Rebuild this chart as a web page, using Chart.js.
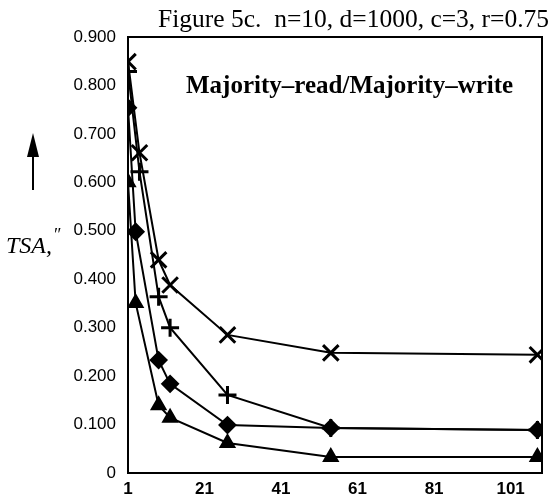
<!DOCTYPE html>
<html>
<head>
<meta charset="utf-8">
<script src="https://cdn.jsdelivr.net/npm/chart.js@4/dist/chart.umd.min.js"></script>
<style>
html,body{margin:0;padding:0;background:#fff;}
#wrap{width:556px;height:500px;position:relative;}
</style>
</head>
<body>
<div id="wrap"><canvas id="c" width="556" height="500"></canvas></div>
<script>
// Data
const xTicks = [1, 21, 41, 61, 81, 101];
const yTicks = [0, 0.1, 0.2, 0.3, 0.4, 0.5, 0.6, 0.7, 0.8, 0.9];
const xCross = [1, 4, 9, 12, 27, 54, 108];
const yCross = [0.849, 0.661, 0.440, 0.388, 0.285, 0.248, 0.244];
const xPlus = [1, 4, 9, 12, 27, 54, 108];
const yPlus = [0.829, 0.622, 0.364, 0.300, 0.161, 0.093, 0.089];
const xDiamond = [1, 3, 9, 12, 27, 54, 108];
const yDiamond = [0.754, 0.498, 0.233, 0.184, 0.099, 0.093, 0.089];
const xTriangle = [1, 3, 9, 12, 27, 54, 108];
const yTriangle = [0.600, 0.351, 0.140, 0.114, 0.062, 0.033, 0.033];

const titleText = 'Figure 5c.  n=10, d=1000, c=3, r=0.75';
const innerText = 'Majority\u2013read/Majority\u2013write';

function pts(xs, ys){ return xs.map((x,i)=>({x:x, y:ys[i]})); }
function ds(xs, ys, style, r, bw){
  return {data: pts(xs, ys), borderColor:'#000', backgroundColor:'#000',
    borderWidth:2, pointStyle:style, pointRadius:r, pointBorderWidth:bw,
    pointBorderColor:'#000', pointBackgroundColor:'#000', tension:0};
}

const decor = {
  id:'decor',
  afterDraw(chart){
    const {ctx, chartArea:a} = chart;
    ctx.save();
    ctx.strokeStyle='#000'; ctx.lineWidth=2;
    ctx.strokeRect(a.left, a.top, a.right-a.left, a.bottom-a.top);
    ctx.fillStyle='#000';
    ctx.font = '25.5px "Liberation Serif"';
    ctx.textAlign='left'; ctx.textBaseline='alphabetic';
    ctx.fillText(titleText, 158, 27);
    ctx.font = 'bold 25px "Liberation Serif"';
    ctx.fillText(innerText, 186, 93);
    // y label arrow
    ctx.beginPath(); ctx.moveTo(33, 190); ctx.lineTo(33, 150); ctx.lineWidth=2; ctx.stroke();
    ctx.beginPath(); ctx.moveTo(33, 133); ctx.lineTo(27, 157); ctx.lineTo(39, 157); ctx.closePath(); ctx.fill();
    ctx.font = 'italic 24px "Liberation Serif"';
    ctx.fillText('TSA,', 6, 253);
    ctx.font = '18px "Liberation Serif"';
    ctx.fillText('\u2033', 54, 241);
    ctx.restore();
  }
};

new Chart(document.getElementById('c'), {
  type:'line',
  data:{datasets:[
    ds(xCross, yCross, 'crossRot', 11, 3),
    ds(xPlus, yPlus, 'cross', 9, 3),
    ds(xDiamond, yDiamond, 'rectRot', 8, 2),
    ds(xTriangle, yTriangle, 'triangle', 8, 2)
  ]},
  options:{
    responsive:false, animation:false, devicePixelRatio:1,
    layout:{padding:{left:0, top:37, right:4, bottom:0}},
    plugins:{legend:{display:false}, tooltip:{enabled:false}, title:{display:false}},
    scales:{
      x:{type:'linear', min:1, max:109.2,
        afterBuildTicks(s){ s.ticks = xTicks.map(v=>({value:v})); },
        afterFit(s){ s.height = 27; },
        grid:{display:false, drawTicks:false},
        border:{display:true, color:'#000', width:2},
        ticks:{color:'#000', font:{family:'"Liberation Sans"', size:17, weight:'bold'}, padding:6, maxRotation:0,
          callback:(v)=>String(v)}
      },
      y:{type:'linear', min:0, max:0.9,
        afterBuildTicks(s){ s.ticks = yTicks.map(v=>({value:v})); },
        afterFit(s){ s.width = 128; },
        grid:{display:false, drawTicks:false},
        border:{display:true, color:'#000', width:2},
        ticks:{color:'#000', font:{family:'"Liberation Sans"', size:17}, padding:12,
          callback:(v)=> v===0 ? '0' : v.toFixed(3)}
      }
    }
  },
  plugins:[decor]
});
</script>
</body>
</html>
